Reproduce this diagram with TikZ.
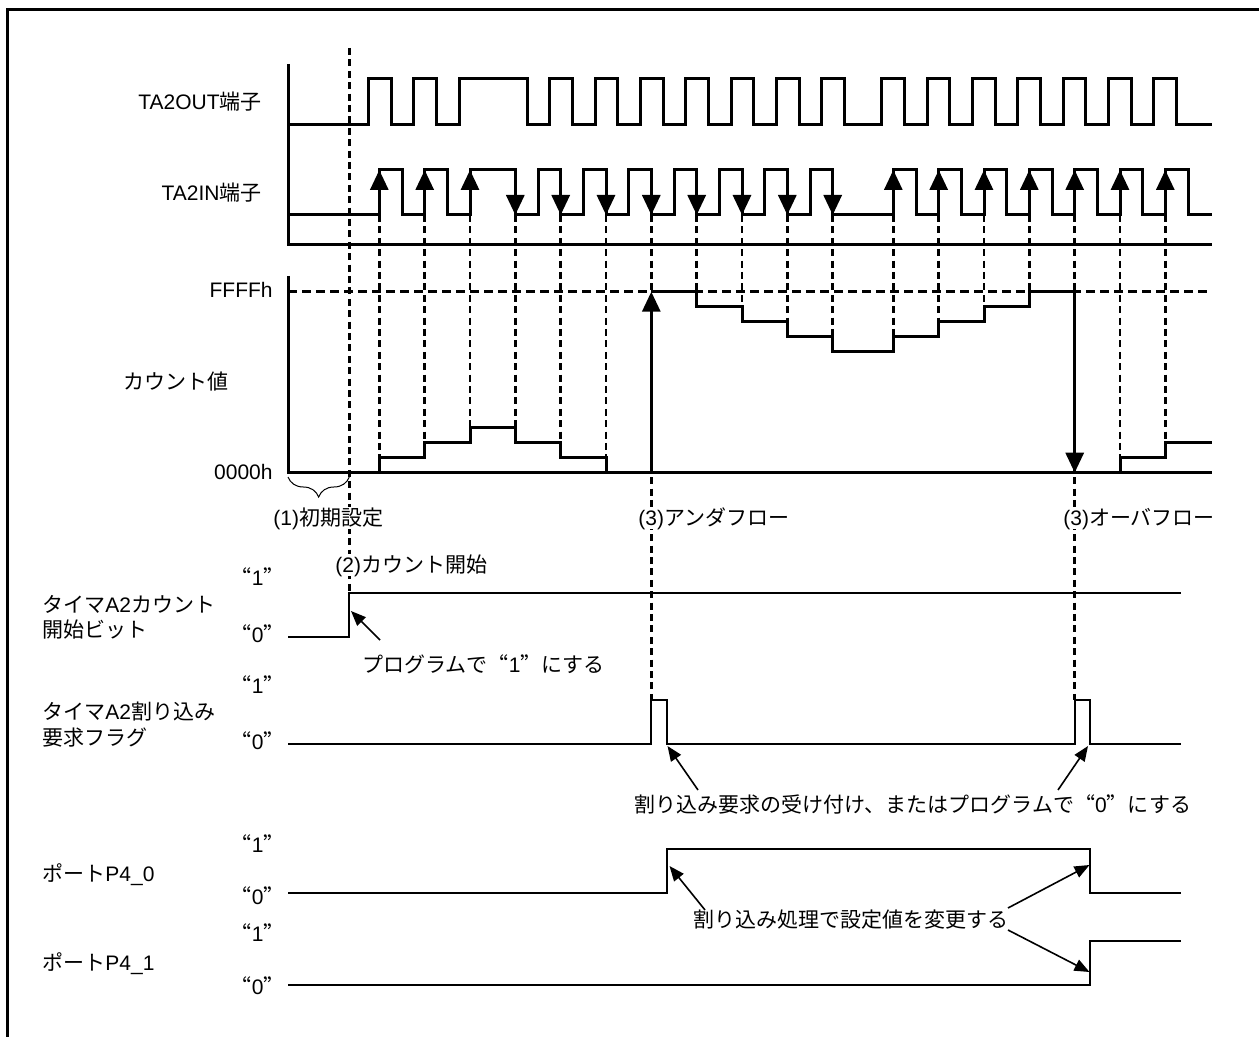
\documentclass[tikz,border=0pt]{standalone}
\usepackage{fontspec}
\setmainfont{Liberation Sans}
\newfontfamily\jp{Noto Sans CJK JP}
\newfontfamily\jpq[RawFeature=+fwid]{Noto Sans CJK JP}
\usetikzlibrary{arrows.meta,decorations.pathreplacing}
\newcommand{\J}[1]{{\jp #1}}
\newcommand{\Q}[1]{{\jpq “}#1{\jpq ”}}
\begin{document}
\begin{tikzpicture}[x=0.5pt,y=-0.5pt,
  lbl/.style={font=\fontsize{10.5pt}{12pt}\selectfont, inner sep=0pt, text height=7.9pt, text depth=0pt},
  wlbl/.style={lbl, fill=white, inner xsep=0.5pt, inner ysep=1.5pt},
  wave/.style={line width=1.5pt},
  thinwave/.style={line width=1pt},
  dsh/.style={line width=1.25pt, dash pattern=on 3.5pt off 2.2pt},
  hdsh/.style={line width=1.25pt, dash pattern=on 4.5pt off 2.5pt},
  bigtip/.style={-{Triangle[length=10pt,width=9pt]}},
  ann/.style={line width=0.8pt, -{Triangle[length=7.5pt,width=6pt]}}
]
\useasboundingbox (0,0) rectangle (1259,1037);
% frame
\draw[line width=1.5pt] (7,1040) -- (7,10) -- (1262,10);

% ---------- labels top ----------
\node[lbl, anchor=east] (tout) at (262,102) {TA2OUT\J{端子}};
\node[lbl, anchor=east] (tin) at (262,193) {TA2IN\J{端子}};
\node[lbl, anchor=east] (ffff) at (273,290) {FFFFh};
\node[lbl, anchor=west] (cnt) at (123,382) {\J{カウント値}};
\node[lbl, anchor=east] (zero) at (273,472) {0000h};

% ---------- axes ----------
\draw[wave] (288,64) -- (288,245) -- (1212,245);
\draw[wave] (288,276) -- (288,472.7) -- (1212,472.7);
\draw[hdsh] (288,291.7) -- (1212,291.7);

% ---------- dashed verticals ----------
\draw[dsh] (349.3,48) -- (349.3,593);
\foreach \x/\y in {379.3/457.7, 424.7/442.7, 470/427.7, 515.3/427.7, 560.7/442.7, 606/457.7,
                   696.7/291.7, 742/306.7, 787.3/321.7, 832.7/336.7, 893.3/336.7, 938.7/321.7,
                   984/306.7, 1029.3/291.7, 1120/457.7, 1165.3/442.7}
  \draw[dsh] (\x,215) -- (\x,\y);
\draw[dsh] (651.3,215) -- (651.3,700);
\draw[dsh] (1074.7,215) -- (1074.7,700);

% ---------- TA2OUT ----------
\draw[wave] (288,125)
  \foreach \x/\y in {368.3/79, 391/125, 413.7/79, 436.3/125, 459/79, 527/125, 549.7/79, 572.3/125,
    595/79, 617.7/125, 640.3/79, 663/125, 685.7/79, 708.3/125, 731/79, 753.7/125, 776.3/79, 799/125,
    821.7/79, 844.3/125, 881.7/79, 904.3/125, 927/79, 949.7/125, 972.3/79, 995/125, 1017.7/79,
    1040.3/125, 1063/79, 1085.7/125, 1108.3/79, 1131/125, 1153.7/79, 1176.3/125} { -| (\x,\y) }
  -- (1212,125);

% ---------- TA2IN ----------
\draw[wave] (288,215)
  \foreach \x/\y in {379.3/170, 402/215, 424.7/170, 447.3/215, 470/170, 515.3/215, 538/170, 560.7/215,
    583.3/170, 606/215, 628.7/170, 651.3/215, 674/170, 696.7/215, 719.3/170, 742/215, 764.7/170,
    787.3/215, 810/170, 832.7/215, 893.3/170, 916/215, 938.7/170, 961.3/215, 984/170, 1006.7/215,
    1029.3/170, 1052/215, 1074.7/170, 1097.3/215, 1120/170, 1142.7/215, 1165.3/170, 1188/215} { -| (\x,\y) }
  -- (1212,215);
\foreach \x in {379.3, 424.7, 470, 893.3, 938.7, 984, 1029.3, 1074.7, 1120, 1165.3}
  \draw[wave, bigtip] (\x,215) -- (\x,170);
\foreach \x in {515.3, 560.7, 606, 651.3, 696.7, 742, 787.3, 832.7}
  \draw[wave, bigtip] (\x,170) -- (\x,215);

% ---------- count value ----------
\draw[wave] (379.3,472.7) |- (424.7,457.7) |- (470,442.7) |- (515.3,427.7) |- (560.7,442.7)
  |- (606,457.7) -- (606,472.7);
\draw[wave] (651.3,291.7) -- (696.7,291.7) |- (742,306.7) |- (787.3,321.7) |- (832.7,336.7)
  |- (893.3,351.7) |- (938.7,336.7) |- (984,321.7) |- (1029.3,306.7) |- (1074.7,291.7);
\draw[wave] (1120,472.7) |- (1165.3,457.7) |- (1212,442.7);
\draw[wave, bigtip] (651.3,472.7) -- (651.3,291.7);
\draw[wave, bigtip] (1074.7,291.7) -- (1074.7,472.7);

% brace
\draw[line width=0.5pt, decorate, decoration={brace, mirror, amplitude=10pt}] (288,477) -- (349.3,477);

% ---------- event labels ----------
\node[wlbl, anchor=west] (init) at (272,518) {(1)\J{初期設定}};
\node[wlbl, anchor=west] (unf) at (637,518) {(3)\J{アンダフロー}};
\node[wlbl, anchor=west] (ovf) at (1062,518) {(3)\J{オーバフロー}};
\node[wlbl, anchor=west] (cst) at (334,565) {(2)\J{カウント開始}};

% ---------- count start bit ----------
\node[lbl, anchor=west] (stl1) at (42,605) {\J{タイマ}A2\J{カウント}};
\node[lbl, anchor=west] (stl2) at (42,630) {\J{開始ビット}};
\node[lbl, anchor=east] (s1) at (285,578) {\Q{1}};
\node[lbl, anchor=east] (s0) at (285,635) {\Q{0}};
\draw[thinwave] (288,637) -- (349.3,637) -- (349.3,593) -- (1181,593);
\node[lbl, anchor=west] (prog) at (362,665) {\J{プログラムで}\Q{1}\J{にする}};
\coordinate (progtail) at (380,640);
\coordinate (progtip) at (351,611);
\draw[ann] (progtail) -- (progtip);

% ---------- interrupt flag ----------
\node[lbl, anchor=west] (fl1) at (42,712) {\J{タイマ}A2\J{割り込み}};
\node[lbl, anchor=west] (fl2) at (42,738) {\J{要求フラグ}};
\node[lbl, anchor=east] (f1) at (285,686) {\Q{1}};
\node[lbl, anchor=east] (f0) at (285,742) {\Q{0}};
\draw[thinwave] (288,744) -| (651.3,700) -| (666.7,744) -| (1074.7,700) -| (1090,744) -- (1181,744);
\node[lbl] (ack) at (913,805) {\J{割り込み要求の受け付け、またはプログラムで}\Q{0}\J{にする}};
\coordinate (acktail1) at (698,790);
\coordinate (acktip1) at (667.5,746);
\coordinate (acktail2) at (1058,790);
\coordinate (acktip2) at (1088,746);
\draw[ann] (acktail1) -- (acktip1);
\draw[ann] (acktail2) -- (acktip2);

% ---------- port P4_0 ----------
\node[lbl, anchor=west] (p0l) at (42,874) {\J{ポート}P4\_0};
\node[lbl, anchor=east] (p01) at (285,845) {\Q{1}};
\node[lbl, anchor=east] (p00) at (285,897) {\Q{0}};
\draw[thinwave] (288,893) -| (666.7,849) -| (1090,893) -- (1181,893);

% ---------- port P4_1 ----------
\node[lbl, anchor=west] (p1l) at (42,963) {\J{ポート}P4\_1};
\node[lbl, anchor=east] (p11) at (285,934) {\Q{1}};
\node[lbl, anchor=east] (p10) at (285,987) {\Q{0}};
\draw[thinwave] (288,985) -| (1090,941) -- (1181,941);

\node[lbl] (chg) at (851,920) {\J{割り込み処理で設定値を変更する}};
\coordinate (chgtail1) at (705,910);
\coordinate (chgtip1) at (669.5,866);
\coordinate (chgtail2) at (1008,908);
\coordinate (chgtip2) at (1089.5,865);
\coordinate (chgtail3) at (1008,930);
\coordinate (chgtip3) at (1089.5,972);
\draw[ann] (chgtail1) -- (chgtip1);
\draw[ann] (chgtail2) -- (chgtip2);
\draw[ann] (chgtail3) -- (chgtip3);
\end{tikzpicture}
\end{document}
